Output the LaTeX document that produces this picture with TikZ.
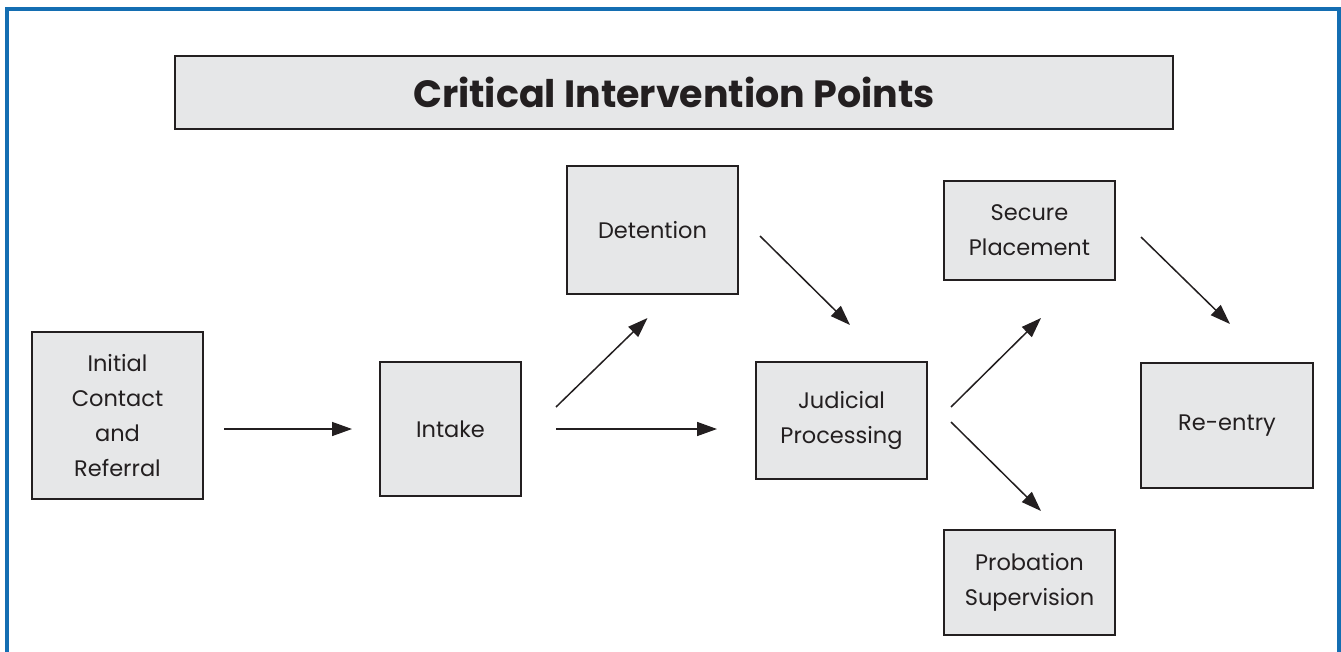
\documentclass[tikz,border=0pt]{standalone}
\usepackage{fontspec}
\setmainfont{Poppins}
\usetikzlibrary{arrows.meta}
\definecolor{frameblue}{RGB}{20,110,178}
\definecolor{boxgray}{RGB}{230,231,232}
\definecolor{boxline}{RGB}{35,31,32}
\begin{document}
\begin{tikzpicture}[x=1pt,y=-1pt]
\tikzstyle{stage}=[draw=boxline, line width=2pt, fill=boxgray, align=center, font=\fontsize{22.5}{35}\selectfont, text=boxline, inner sep=0pt, anchor=north west]
\tikzstyle{flow}=[line width=1.5pt, draw=boxline, -{Triangle[length=20pt,width=14pt]}]
\useasboundingbox (0,0) rectangle (1341,651);
\clip (0,0) rectangle (1341,651);
\draw[frameblue, line width=4pt] (7,700) -- (7,9) -- (1339,9) -- (1339,700);
\node (title) [stage, minimum width=998pt, minimum height=73pt, font=\fontsize{38}{40}\selectfont\bfseries] at (174,55) {Critical Intervention Points};
\node (init) [stage, minimum width=171pt, minimum height=167pt] at (31,331) {Initial\\Contact\\and\\Referral};
\node (intake) [stage, minimum width=141pt, minimum height=134pt] at (379,361) {Intake};
\node (detention) [stage, minimum width=171pt, minimum height=128pt] at (566,165) {Detention};
\node (judicial) [stage, minimum width=171pt, minimum height=117pt] at (755,361) {Judicial\\Processing};
\node (secure) [stage, minimum width=171pt, minimum height=99pt] at (943,180) {Secure\\Placement};
\node (probation) [stage, minimum width=171pt, minimum height=105pt] at (943,529) {Probation\\Supervision};
\node (reentry) [stage, minimum width=172pt, minimum height=125pt] at (1140,362) {Re-entry};
\draw[flow] ([shift={(20,13.5)}]init.east) -- ([shift={(-27,0)}]intake.west);
\draw[flow] ([shift={(34,-22)}]intake.east) -- ([shift={(-5,23)}]detention.south);
\draw[flow] ([shift={(34,0)}]intake.east) -- ([shift={(-38,8.5)}]judicial.west);
\draw[flow] ([shift={(21,6)}]detention.east) -- ([shift={(8.5,-36)}]judicial.north);
\draw[flow] ([shift={(23,-13.5)}]judicial.east) -- ([shift={(11.5,37)}]secure.south);
\draw[flow] ([shift={(23,1.5)}]judicial.east) -- ([shift={(11.5,-18)}]probation.north);
\draw[flow] ([shift={(25,6.5)}]secure.east) -- ([shift={(3,-38)}]reentry.north);
\end{tikzpicture}
\end{document}
